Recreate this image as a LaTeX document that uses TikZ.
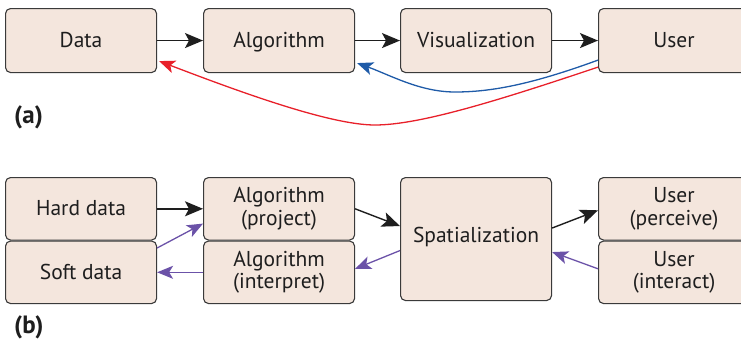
\documentclass[tikz,border=0pt]{standalone}
\usepackage{fontspec}
\setmainfont{PT Sans}
\usetikzlibrary{arrows.meta,calc}
\definecolor{boxfill}{HTML}{F4E6DD}
\definecolor{boxline}{HTML}{3A3A3A}
\definecolor{ablue}{HTML}{1F5BA8}
\definecolor{ared}{HTML}{E8202A}
\definecolor{apurple}{HTML}{6B52A8}
\definecolor{ablack}{HTML}{1E1E1E}
\begin{document}
\begin{tikzpicture}[x=1pt,y=-1pt,
  box/.style={draw=boxline, line width=1.1pt, fill=boxfill, rounded corners=5pt,
    minimum width=151pt, minimum height=64pt, anchor=north west, align=center,
    inner sep=0pt, text=ablack, font=\fontsize{21.5}{22.5}\selectfont},
  one/.style={text height=15pt, text depth=1pt},
  boxb/.style={box, minimum height=62.5pt},
  arr/.style={-{Stealth[length=18pt,width=15pt,inset=4pt]}, line width=1.4pt, draw=ablack},
  carr/.style={-{Stealth[length=16pt,width=13pt,inset=4pt]}, line width=1.3pt},
  lbl/.style={anchor=west, inner sep=0pt, font=\bfseries\fontsize{25}{26}\selectfont, text=ablack}
]
\useasboundingbox (0,0) rectangle (741,348);
\clip (0,0) rectangle (741,348);

% (a)
\node[box, one] (data) at (5,8) {Data};
\node[box, one] (alg) at (203,8) {Algorithm};
\node[box, one] (vis) at (400,8) {Visualization};
\node[box, one] (user) at (598,8) {User};

\draw[arr] (data) -- (alg);
\draw[arr] (alg) -- (vis);
\draw[arr] (vis) -- (user);

\draw[carr, ablue] ($(user.south west)+(0,-13)$)
  .. controls (530,85) and (490,92) .. (455,92)
  .. controls (420,92) and (390,75) .. ($(alg.south east)+(2,-10)$);
\draw[carr, ared] ($(user.south west)+(0,-6)$)
  .. controls (500,100) and (420,125) .. (375,125)
  .. controls (330,125) and (240,92) .. ($(data.south east)+(2,-12)$);

\node[lbl] (la) at (14,117) {(a)};

% (b)
\node[boxb, one] (hard) at (5,177) {Hard data};
\node[boxb, one] (soft) at (5,240.5) {Soft data};
\node[boxb] (algp) at (203,177) {Algorithm\\(project)};
\node[boxb] (algi) at (203,240.5) {Algorithm\\(interpret)};
\node[box, text height=15pt, text depth=8pt, minimum height=123pt] (spat) at (400,177) {Spatialization};
\node[boxb] (userp) at (598,177) {User\\(perceive)};
\node[boxb] (useri) at (598,240.5) {User\\(interact)};

\draw[arr] (hard) -- (algp);
\draw[carr, apurple] ($(soft.north east)+(0,7.5)$) -- ($(algp.south west)+(0,-17)$);
\draw[carr, apurple] (algi.west) -- (soft.east);
\draw[arr] (algp.east) -- ($(spat.west)+(0,-13)$);
\draw[carr, apurple] ($(spat.west)+(0,11.5)$) -- ($(algi.east)+(0,-3.5)$);
\draw[arr] ($(spat.east)+(0,-11)$) -- ($(userp.west)+(0,1.5)$);
\draw[carr, apurple] ($(useri.west)+(0,-3.5)$) -- ($(spat.east)+(0,13)$);

\node[lbl] (lb) at (14,327) {(b)};
\end{tikzpicture}
\end{document}
